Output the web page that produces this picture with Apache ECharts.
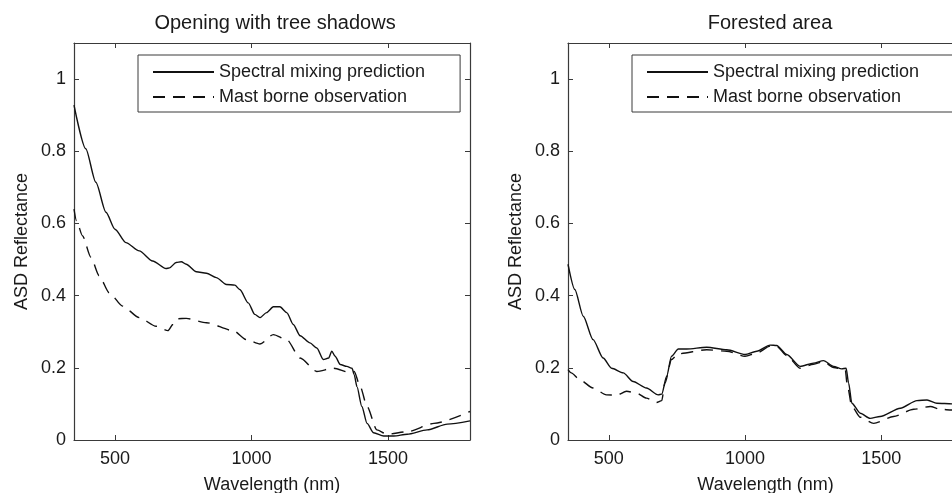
<!DOCTYPE html>
<html>
<head>
<meta charset="utf-8">
<script src="https://cdn.jsdelivr.net/npm/echarts@6/dist/echarts.min.js"></script>
<style>
  html, body { margin: 0; padding: 0; background: #fff; }
  #chart { width: 952px; height: 493px; }
</style>
</head>
<body>
<div id="chart"></div>
<script>
// Opening with tree shadows - spectral mixing prediction (solid)
const openPredWl = [350, 393, 430, 467, 500, 540, 589, 638, 687, 700, 724, 743, 761, 798, 835, 871, 908, 939, 957, 988, 1012, 1031, 1055, 1080, 1104, 1129, 1153, 1178, 1214, 1239, 1263, 1282, 1294, 1306, 1325, 1349, 1368, 1376, 1386, 1404, 1423, 1447, 1484, 1521, 1570, 1643, 1717, 1800];
const openPredVal = [0.928, 0.807, 0.714, 0.631, 0.584, 0.547, 0.524, 0.496, 0.475, 0.477, 0.492, 0.494, 0.487, 0.466, 0.462, 0.450, 0.431, 0.429, 0.417, 0.380, 0.348, 0.339, 0.353, 0.369, 0.369, 0.353, 0.320, 0.289, 0.269, 0.255, 0.223, 0.227, 0.246, 0.232, 0.209, 0.204, 0.199, 0.181, 0.148, 0.093, 0.046, 0.020, 0.011, 0.011, 0.016, 0.028, 0.044, 0.053];
// Opening with tree shadows - mast borne observation (dashed)
const openObsWl = [350, 359, 381, 412, 442, 479, 528, 589, 651, 694, 712, 730, 761, 835, 933, 982, 1031, 1080, 1129, 1178, 1239, 1300, 1361, 1376, 1398, 1423, 1459, 1496, 1570, 1668, 1800];
const openObsVal = [0.640, 0.608, 0.566, 0.506, 0.455, 0.408, 0.371, 0.339, 0.315, 0.303, 0.320, 0.336, 0.337, 0.325, 0.303, 0.278, 0.266, 0.292, 0.278, 0.227, 0.190, 0.199, 0.187, 0.190, 0.148, 0.093, 0.028, 0.016, 0.023, 0.046, 0.079];

// Forested area - spectral mixing prediction (solid)
const forestPredWl = [350, 375, 406, 442, 479, 510, 553, 589, 638, 681, 694, 712, 730, 755, 786, 859, 933, 1000, 1043, 1092, 1116, 1153, 1202, 1251, 1288, 1325, 1355, 1371, 1380, 1392, 1423, 1459, 1496, 1570, 1631, 1668, 1704, 1761, 1800];
const forestPredVal = [0.487, 0.417, 0.343, 0.278, 0.227, 0.199, 0.186, 0.162, 0.144, 0.125, 0.127, 0.176, 0.232, 0.252, 0.252, 0.257, 0.250, 0.237, 0.246, 0.263, 0.262, 0.237, 0.204, 0.213, 0.220, 0.204, 0.197, 0.199, 0.158, 0.102, 0.074, 0.060, 0.065, 0.088, 0.109, 0.111, 0.102, 0.100, 0.100];
// Forested area - mast borne observation (dashed)
const forestObsWl = [350, 362, 393, 442, 491, 528, 565, 602, 638, 675, 694, 706, 730, 755, 859, 933, 1000, 1043, 1092, 1116, 1153, 1202, 1251, 1288, 1325, 1368, 1374, 1392, 1423, 1472, 1545, 1619, 1680, 1717, 1761, 1800];
const forestObsVal = [0.195, 0.186, 0.167, 0.144, 0.125, 0.124, 0.135, 0.130, 0.116, 0.104, 0.109, 0.158, 0.223, 0.239, 0.250, 0.246, 0.232, 0.241, 0.260, 0.260, 0.234, 0.199, 0.210, 0.217, 0.201, 0.195, 0.158, 0.093, 0.063, 0.046, 0.065, 0.085, 0.093, 0.085, 0.083, 0.083];

const panelTitles = ['Opening with tree shadows', 'Forested area'];
const seriesNames = ['Spectral mixing prediction', 'Mast borne observation'];
const xTicks = [500, 1000, 1500];
const yTicks = [0, 0.2, 0.4, 0.6, 0.8, 1];

const pairs = (xs, ys) => xs.map((x, i) => [x, ys[i]]);

const font = 'Liberation Sans, Arial, Helvetica, sans-serif';
const textColor = '#1a1a1a';
const axisColor = '#3a3a3a';

// second panel runs past the right edge of the canvas, as in the source figure
const grids = [
  { left: 74, top: 43, width: 396, height: 397, outerBoundsMode: 'none', containLabel: false },
  { left: 568, top: 43, width: 395, height: 397, outerBoundsMode: 'none', containLabel: false }
];

const xAxes = [];
const yAxes = [];
grids.forEach((g, i) => {
  xAxes.push({
    type: 'value', gridIndex: i, min: 350, max: 1800, position: 'bottom',
    name: 'Wavelength (nm)', nameLocation: 'middle', nameGap: 36,
    nameTextStyle: { color: textColor, fontSize: 18, fontFamily: font },
    axisLine: { show: true, onZero: false, lineStyle: { color: axisColor, width: 1.2 } },
    axisTick: { show: true, inside: true, length: 5, customValues: xTicks, lineStyle: { color: axisColor } },
    axisLabel: { show: true, customValues: xTicks, margin: 10, color: textColor, fontSize: 18, fontFamily: font,
      formatter: v => String(v) },
    splitLine: { show: false }
  });
  xAxes.push({
    type: 'value', gridIndex: i, min: 350, max: 1800, position: 'top',
    axisLine: { show: true, onZero: false, lineStyle: { color: axisColor, width: 1.2 } },
    axisTick: { show: true, inside: true, length: 5, customValues: xTicks, lineStyle: { color: axisColor } },
    axisLabel: { show: false },
    splitLine: { show: false }
  });
  yAxes.push({
    type: 'value', gridIndex: i, min: 0, max: 1.1, position: 'left',
    name: 'ASD Reflectance', nameLocation: 'middle', nameGap: 43,
    nameTextStyle: { color: textColor, fontSize: 18, fontFamily: font },
    axisLine: { show: true, onZero: false, lineStyle: { color: axisColor, width: 1.2 } },
    axisTick: { show: true, inside: true, length: 5, customValues: yTicks, lineStyle: { color: axisColor } },
    axisLabel: { show: true, customValues: yTicks, margin: 8, color: textColor, fontSize: 18, fontFamily: font,
      formatter: v => String(Math.round(v * 10) / 10) },
    splitLine: { show: false }
  });
  yAxes.push({
    type: 'value', gridIndex: i, min: 0, max: 1.1, position: 'right',
    axisLine: { show: true, onZero: false, lineStyle: { color: axisColor, width: 1.2 } },
    axisTick: { show: true, inside: true, length: 5, customValues: yTicks, lineStyle: { color: axisColor } },
    axisLabel: { show: false },
    splitLine: { show: false }
  });
});

const lineSeries = (name, data, idx, dashed) => ({
  name: name,
  type: 'line',
  xAxisIndex: idx * 2,
  yAxisIndex: idx * 2,
  data: data,
  symbol: 'none',
  smooth: 0.25,
  smoothMonotone: 'x',
  lineStyle: { color: '#111', width: 1.4, type: dashed ? [12, 8] : 'solid' },
  itemStyle: { color: '#111' },
  animation: false
});

const legendBox = (left) => ({
  left: left, top: 55, orient: 'vertical',
  data: seriesNames,
  itemWidth: 61, itemHeight: 18, itemGap: 7,
  padding: [8, 35, 6, 14],
  borderColor: axisColor, borderWidth: 1,
  backgroundColor: '#fff',
  selectedMode: false,
  itemStyle: { opacity: 0 },
  textStyle: { color: textColor, fontSize: 18, fontFamily: font }
});

const chart = echarts.init(document.getElementById('chart'));
chart.setOption({
  backgroundColor: '#fff',
  animation: false,
  title: [
    { text: panelTitles[0], left: 270, top: 8, textAlign: 'center',
      textStyle: { color: textColor, fontSize: 20, fontWeight: 'normal', fontFamily: font } },
    { text: panelTitles[1], left: 765, top: 8, textAlign: 'center',
      textStyle: { color: textColor, fontSize: 20, fontWeight: 'normal', fontFamily: font } }
  ],
  legend: [legendBox(138), legendBox(632)],
  grid: grids,
  xAxis: xAxes,
  yAxis: yAxes,
  series: [
    lineSeries(seriesNames[0], pairs(openPredWl, openPredVal), 0, false),
    lineSeries(seriesNames[1], pairs(openObsWl, openObsVal), 0, true),
    lineSeries(seriesNames[0], pairs(forestPredWl, forestPredVal), 1, false),
    lineSeries(seriesNames[1], pairs(forestObsWl, forestObsVal), 1, true)
  ]
});
</script>
</body>
</html>
